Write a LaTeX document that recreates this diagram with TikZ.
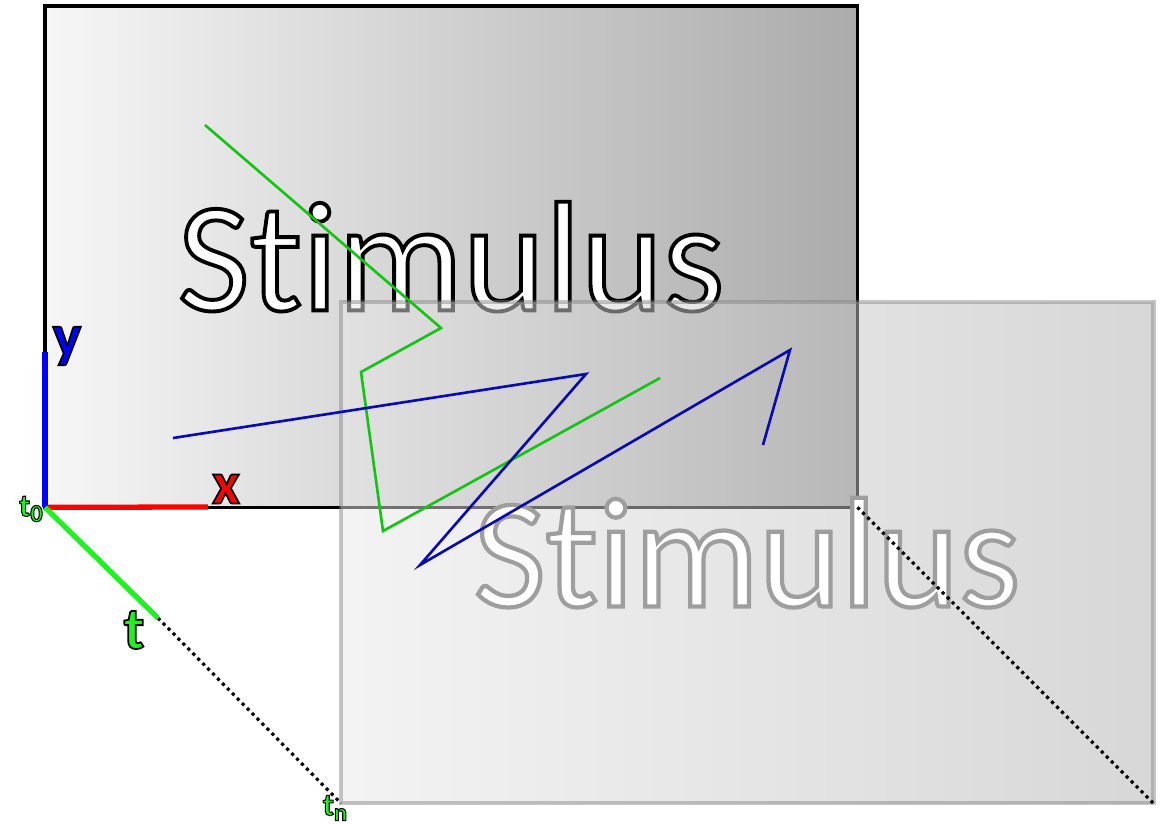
\documentclass[tikz,border=0pt]{standalone}
\usepackage{fontspec}
\setmainfont{Carlito}[RawFeature={-liga;-clig;-dlig}]
\usetikzlibrary{positioning}
\definecolor{stimlight}{HTML}{F6F6F6}
\definecolor{stimdark}{HTML}{ABABAB}
\definecolor{backlight}{HTML}{E8E8E8}
\definecolor{backdark}{HTML}{B0B0B0}
\definecolor{backedge}{HTML}{808080}
\definecolor{pathgreen}{HTML}{14C414}
\definecolor{pathblue}{HTML}{0A0AB4}
\definecolor{axgreen}{HTML}{22F022}
\tikzset{
  frame/.style   ={shade, shading=axis, minimum width=8.12cm, minimum height=5.01cm,
                   inner sep=0pt, outer sep=0pt, anchor=north west, text=white,
                   font=\fontsize{44.5}{44.5}\selectfont},
  frontrect/.style={frame, left color=stimlight, right color=stimdark,
                   draw=black, line width=1pt},
  backrect/.style={frame, left color=backlight, right color=backdark,
                   draw=backedge, line width=1.2pt, fill opacity=0.5,
                   draw opacity=0.45, text opacity=1},
  axis/.style    ={line width=1.5pt},
  xaxis/.style   ={axis, draw=red},
  yaxis/.style   ={axis, draw=blue},
  taxis/.style   ={axis, draw=axgreen},
  dotline/.style ={draw=black, line width=0.9pt, dash pattern=on 0.9pt off 1.1pt},
  gpath/.style   ={draw=pathgreen, line width=0.75pt, line join=miter},
  bpath/.style   ={draw=pathblue, line width=0.75pt, line join=miter},
  alabel/.style  ={font=\fontsize{17}{17}\selectfont\bfseries, inner sep=0pt},
  tlabel/.style  ={font=\fontsize{9}{9}\selectfont\bfseries, inner sep=0pt,
                   text=axgreen},
}
% outlined text: fill, then stroke of width #2 in grey level #3
\newcommand{\stroked}[3]{%
  \special{pdf:literal direct #2 w #3 G 2 Tr}#1\special{pdf:literal direct 0 Tr}}
\newcommand{\tsub}[1]{t\raisebox{-0.35ex}{\fontsize{7}{7}\selectfont #1}}

\begin{document}
\begin{tikzpicture}[x=0.01cm,y=-0.01cm]
  \useasboundingbox (0,0) rectangle (1162,823);

  % ---- the two frames ----------------------------------------------------
  \node[frontrect] (front) at (45,6) {\stroked{Stimulus}{1.1}{0}};
  \node[backrect] (back) at (341,302) {\stroked{Stimulus}{1.2}{0.62}};

  % ---- time axis ---------------------------------------------------------
  \coordinate (tend) at (158,618);
  \draw[dotline] (tend) -- (back.south west);
  \draw[dotline] (front.south east) -- (back.south east);

  % ---- the traces --------------------------------------------------------
  \draw[gpath] (205,125) -- (441,328) -- (361,372) -- (383,531) -- (660,378);
  \draw[bpath] (173,438) -- (586,374) -- (420,565) -- (790,350) -- (763,445);

  % ---- axes --------------------------------------------------------------
  \coordinate (xend) at (208,507);
  \coordinate (yend) at (45,352);
  \draw[xaxis] (front.south west) -- (xend);
  \draw[yaxis] (front.south west) -- (yend);
  \draw[taxis] (front.south west) -- (tend);

  \node[alabel, text=red] (xlab) at (226,489) {\stroked{x}{0.5}{0}};
  \node[alabel, text=blue] (ylab) at (67,346) {\stroked{y}{0.5}{0}};
  \node[alabel, text=axgreen] (tlab) at (134,630) {\stroked{t}{0.5}{0}};
  \node[tlabel] (t0) at (31,509) {\stroked{\tsub{0}}{0.3}{0}};
  \node[tlabel] (tn) at (335,808) {\stroked{\tsub{n}}{0.3}{0}};
\end{tikzpicture}
\end{document}
